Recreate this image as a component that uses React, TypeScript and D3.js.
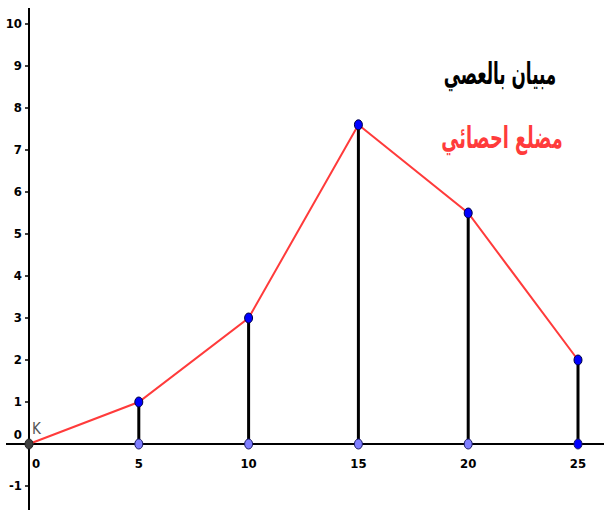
import React from "react";
import * as d3 from "d3";

const xValues = [0, 5, 10, 15, 20, 25];
const yValues = [0, 1, 3, 7.6, 5.5, 2];
const yTicks = [-1, 0, 1, 2, 3, 4, 5, 6, 7, 8, 9, 10];
const xTicks = [0, 5, 10, 15, 20, 25];
const title1 = "مبيان بالعصي";
const title2 = "مضلع احصائي";

const W = 604;
const H = 510;

export default function App() {
  const x = d3.scaleLinear().domain([0, 25]).range([29, 578]);
  const y = d3.scaleLinear().domain([0, 10]).range([444, 24]);
  const pts = xValues.map((v, i) => [v, yValues[i]] as [number, number]);
  const line = d3
    .line<[number, number]>()
    .x((d) => x(d[0]))
    .y((d) => y(d[1]));
  const font = "'Liberation Sans Narrow', 'DejaVu Sans Condensed', 'Arial Narrow', sans-serif";
  return (
    <svg
      width={W}
      height={H}
      style={{ position: "absolute", left: 0, top: 0, background: "#fff" }}
    >
      {/* axes */}
      <line x1={6} x2={604} y1={y(0)} y2={y(0)} stroke="#000" strokeWidth={2} />
      <line x1={x(0)} x2={x(0)} y1={8} y2={510} stroke="#000" strokeWidth={2} />
      {yTicks.map((t) => (
        <g key={"y" + t}>
          {t !== 0 && (
            <line x1={x(0) - 4} x2={x(0)} y1={y(t)} y2={y(t)} stroke="#000" strokeWidth={1.5} />
          )}
          <text
            x={22}
            y={t === 0 ? y(t) - 5 : y(t) + 4}
            textAnchor="end"
            fontFamily={font}
            fontSize={13}
            fontWeight="bold"
            style={{ fontStretch: "condensed" }}
          >
            {t}
          </text>
        </g>
      ))}
      {xTicks.map((t) => (
        <text
          key={"x" + t}
          x={t === 0 ? x(t) + 7 : x(t)}
          y={468}
          textAnchor="middle"
          fontFamily={font}
          fontSize={13}
          fontWeight="bold"
          style={{ fontStretch: "condensed" }}
        >
          {t}
        </text>
      ))}
      <text x={32} y={434} fontFamily="'DejaVu Sans Condensed', sans-serif" fontSize={15} fill="#555">
        K
      </text>
      {/* stems */}
      {pts.slice(1).map((d, i) => (
        <line
          key={"s" + i}
          x1={x(d[0])}
          x2={x(d[0])}
          y1={y(0)}
          y2={y(d[1])}
          stroke="#000"
          strokeWidth={3}
        />
      ))}
      {/* polygon */}
      <path d={line(pts) || ""} fill="none" stroke="#ff3b3b" strokeWidth={2} />
      {/* base points */}
      {pts.map((d, i) => (
        <ellipse
          key={"b" + i}
          cx={x(d[0])}
          cy={y(0)}
          rx={4}
          ry={5}
          fill={i === 0 ? "#404040" : i === pts.length - 1 ? "#0000ff" : "#7f7fff"}
          stroke={i === 0 ? "#222" : "#1a1a66"}
          strokeWidth={1}
        />
      ))}
      {/* top points */}
      {pts.slice(1).map((d, i) => (
        <ellipse
          key={"t" + i}
          cx={x(d[0])}
          cy={y(d[1])}
          rx={4}
          ry={5}
          fill="#0000ff"
          stroke="#000040"
          strokeWidth={1}
        />
      ))}
      <g transform="translate(500,84) scale(0.56,1)">
        <text
          x={0}
          y={0}
          textAnchor="middle"
          fontFamily="'DejaVu Sans', sans-serif"
          fontWeight="bold"
          fontSize={30}
          fill="#000"
        >
          {title1}
        </text>
      </g>
      <g transform="translate(502,148) scale(0.59,1)">
        <text
          x={0}
          y={0}
          textAnchor="middle"
          fontFamily="'DejaVu Sans', sans-serif"
          fontWeight="bold"
          fontSize={30}
          fill="#ff3b3b"
        >
          {title2}
        </text>
      </g>
    </svg>
  );
}
